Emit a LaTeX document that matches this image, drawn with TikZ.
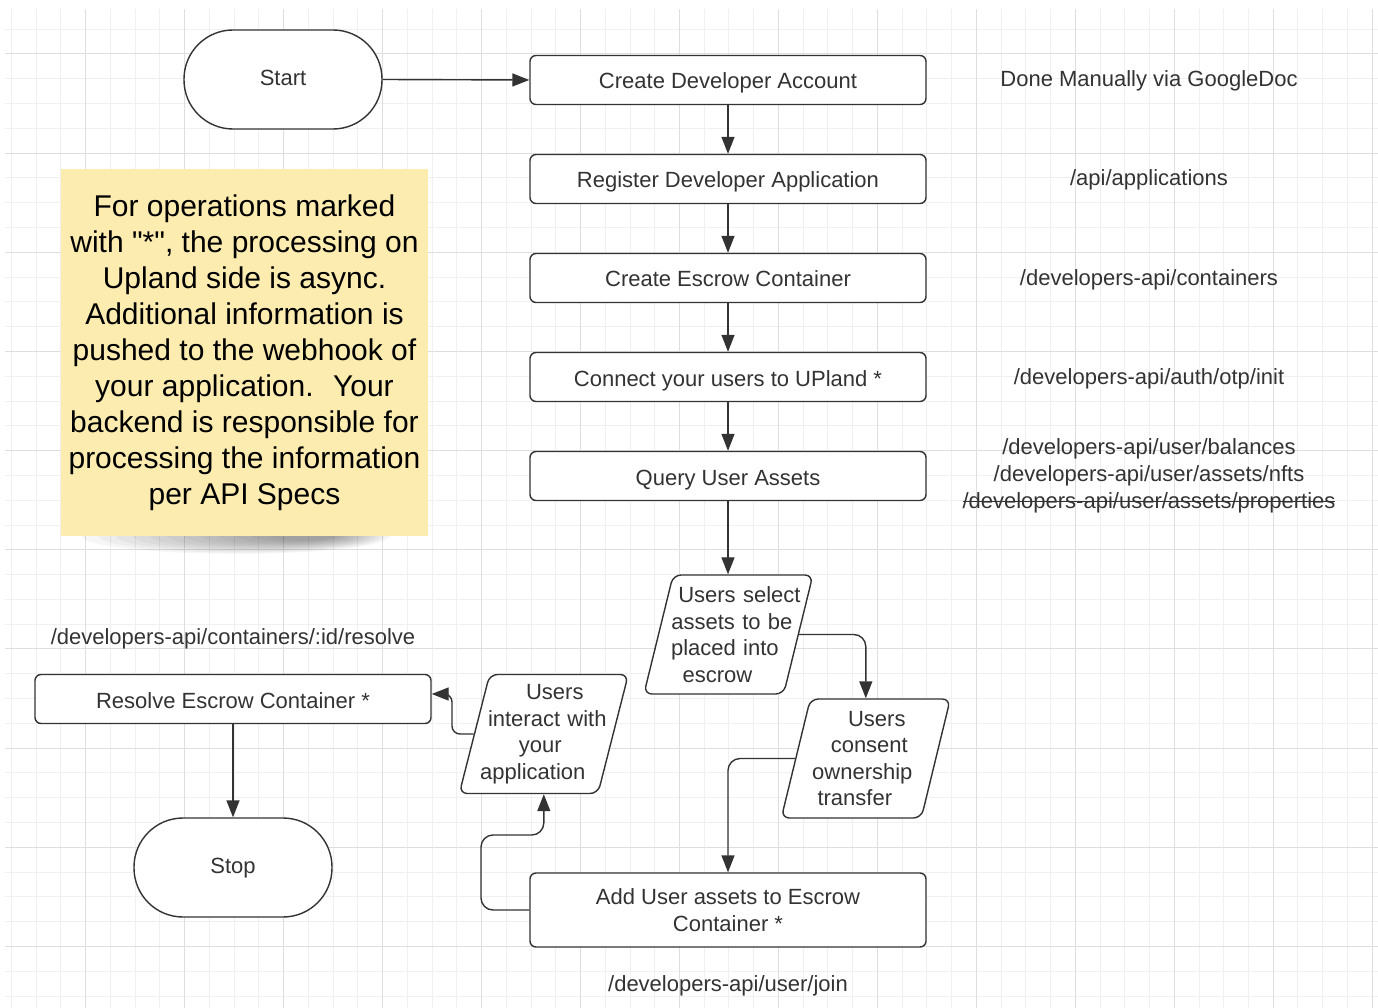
\documentclass[tikz,border=0pt]{standalone}
\usepackage{fontspec}
\setmainfont{Liberation Sans}
\usetikzlibrary{shapes.geometric,arrows.meta}
\definecolor{ink}{HTML}{333333}
\definecolor{sticky}{HTML}{FCECB0}
\definecolor{gridminor}{HTML}{F0F0F0}
\definecolor{gridmajor}{HTML}{DEDEDE}
\newcommand\strikeout[1]{\setbox0\hbox{#1}\rlap{\rule[0.27em]{\wd0}{1.3pt}}\box0}
\newcommand\shiftline[2]{\makebox[\linewidth]{\hspace*{#1}#2}}

\begin{document}
\begin{tikzpicture}[x=1pt,y=-1pt,
	every node/.style={text=ink,font=\fontsize{22}{26.5}\selectfont},
	oneline/.style={text height=23pt,text depth=5pt},
	term/.style={draw=ink,fill=white,line width=1.4pt,rectangle,rounded corners=49pt,
		minimum width=198pt,minimum height=99pt,text height=16pt,text depth=4pt},
	box/.style={draw=ink,fill=white,line width=1.4pt,rectangle,rounded corners=6pt,
		minimum width=396pt},
	proc/.style={box,minimum height=49pt,oneline},
	io/.style={draw=ink,fill=white,line width=1.4pt,trapezium,trapezium left angle=73,
		trapezium right angle=107,trapezium stretches body=true,minimum width=169pt,
		minimum height=119pt,inner sep=0pt,text width=100pt,align=center,rounded corners=8pt},
	api/.style={align=center},
	arr/.style={draw=ink,line width=1.4pt,rounded corners=12pt,-{Triangle[length=17pt,width=13pt]}}]
\useasboundingbox (0,0) rectangle (1378,1008);
\fill[white] (0,0) rectangle (1378,1008);

% grid
\foreach \i in {0,...,55}
	\draw[gridminor,line width=1pt] ({11.5+\i*24.74},9) -- ({11.5+\i*24.74},1008);
\foreach \j in {0,...,39}
	\draw[gridminor,line width=1pt] (5,{29.2+\j*24.79}) -- (1378,{29.2+\j*24.79});
\foreach \i in {3,7,...,55}
	\draw[gridmajor,line width=1pt] ({11.5+\i*24.74},9) -- ({11.5+\i*24.74},1008);
\foreach \j in {1,5,...,37}
	\draw[gridmajor,line width=1pt] (5,{29.2+\j*24.79}) -- (1378,{29.2+\j*24.79});

% sticky note with its shadow
\foreach \r in {1,...,12}
	\fill[black,opacity=0.035] ({230+\r*6},536) ellipse ({165-\r*11} and {19-\r*1.2});
\node[fill=sticky,minimum width=367pt,minimum height=367pt,align=center,text=black,
	font=\fontsize{30}{36}\selectfont] (note) at (244.5,352.5)
	{For operations marked\\with \textquotedbl*\textquotedbl, the processing on\\Upland side is async.\\
	Additional information is\\pushed to the webhook of\\your application.~ Your\\
	backend is responsible for\\processing the information\\per API Specs};

% main flow
\node[term] (st) at (283,79.5) {Start};
\node[proc] (cda) at (728,80) {Create Developer Account};
\node[proc] (rda) at (728,179) {Register Developer Application};
\node[proc] (cec) at (728,278) {Create Escrow Container};
\node[proc] (cuu) at (728,377) {Connect your users to UPland *};
\node[proc] (qua) at (728,476) {Query User Assets};
\node[io] (sel) at (728.4,634.5)
	{\shiftline{22pt}{Users select}\\\shiftline{7pt}{assets to be}\\
	\shiftline{-7pt}{placed into}\\\shiftline{-22pt}{escrow}};
\node[io] (con) at (865.8,758.5)
	{\shiftline{22pt}{Users}\\\shiftline{7pt}{consent}\\
	\shiftline{-7pt}{ownership}\\\shiftline{-22pt}{transfer}};
\node[box,minimum height=74pt,align=center] (add) at (728,910)
	{Add User assets to Escrow\\Container *};
\node[io] (int) at (543.8,734)
	{\shiftline{22pt}{Users}\\\shiftline{7pt}{interact with}\\
	\shiftline{-7pt}{your}\\\shiftline{-22pt}{application}};
\node[proc] (res) at (233,699) {Resolve Escrow Container *};
\node[term] (stop) at (233,867.5) {Stop};

% endpoints
\node[api,oneline] (l1) at (1149,78) {Done Manually via GoogleDoc};
\node[api,oneline] (l2) at (1149,177) {/api/applications};
\node[api,oneline] (l3) at (1149,276) {/developers-api/containers};
\node[api,oneline] (l4) at (1149,375) {/developers-api/auth/otp/init};
\node[api,font=\fontsize{22}{27}\selectfont] (l5) at (1149,475.5)
	{/developers-api/user/balances\\/developers-api/user/assets/nfts\\
	\strikeout{/developers-api/user/assets/properties}};
\node[api,oneline] (l6) at (233,635) {/developers-api/containers/:id/resolve};
\node[api,oneline] (l7) at (728,982) {/developers-api/user/join};

% connectors
\draw[arr] (st.east) -- (cda.west);
\foreach \a/\b in {cda/rda,rda/cec,cec/cuu,cuu/qua}
	\draw[arr] (\a.south) -- (\b.north);
\draw[arr] (qua.south) -- (qua.south |- sel.north);
\draw[arr] (sel.east) -| (con.center |- con.north);
\draw[arr] (con.west) -| (add.north);
\draw[arr] (add.west) -| (481,835) -| (int.center |- int.south);
\draw[arr,rounded corners=8pt] (int.west) -| (452,694) -- ([yshift=5pt]res.east);
\draw[arr] (res.south) -- (stop.north);
\end{tikzpicture}
\end{document}
